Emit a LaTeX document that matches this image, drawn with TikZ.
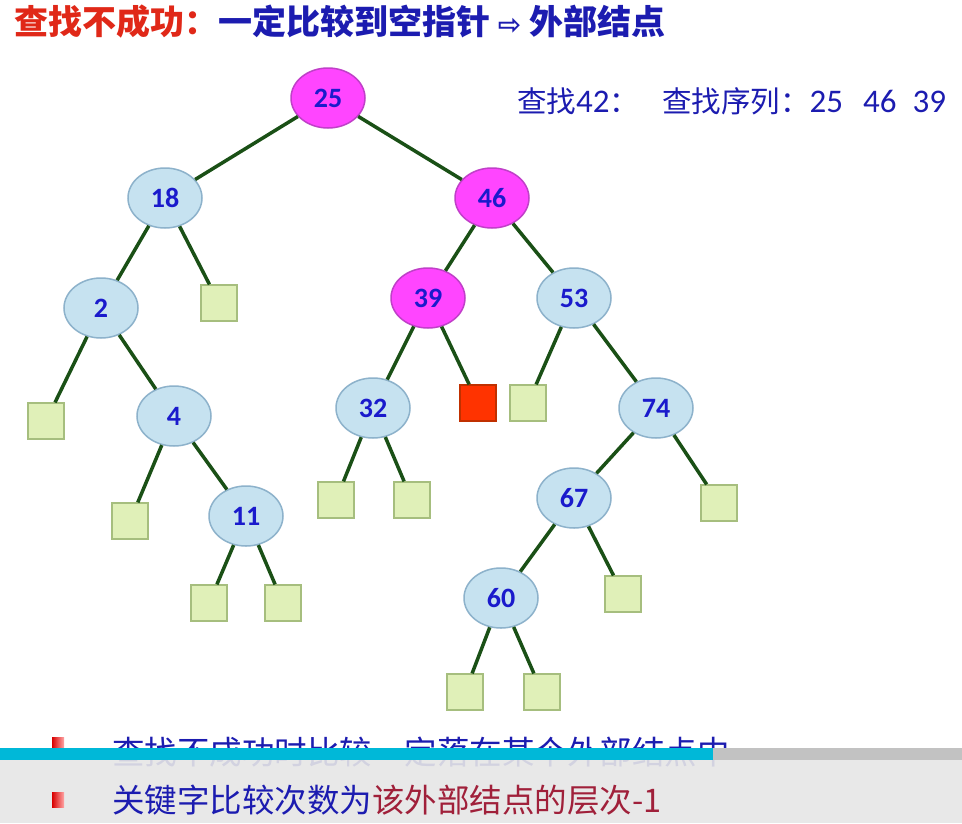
\documentclass[tikz,border=0pt]{standalone}
\usepackage{fontspec}
\setmainfont{Noto Sans CJK SC}
\newfontfamily\numfont{Carlito}
\newfontfamily\symfont{DejaVu Sans}
\usetikzlibrary{shapes.geometric}
\definecolor{titlered}{HTML}{E02818}
\definecolor{textblue}{HTML}{1C1CB0}
\definecolor{darkred}{HTML}{A0203A}
\definecolor{numblue}{HTML}{1A1ACC}
\definecolor{nodefill}{HTML}{C6E2F0}
\definecolor{nodeedge}{HTML}{8DB2CB}
\definecolor{hitfill}{HTML}{FF45FF}
\definecolor{hitedge}{HTML}{C040C8}
\definecolor{extfill}{HTML}{E0F0B8}
\definecolor{extedge}{HTML}{A6BE7E}
\definecolor{failfill}{HTML}{FF3300}
\definecolor{failedge}{HTML}{C03000}
\definecolor{branchgreen}{HTML}{1A5016}
\definecolor{barcyan}{HTML}{00B8D8}
\definecolor{bargray}{HTML}{C2C2C2}
\definecolor{panelgray}{HTML}{E6E6E6}
\newcommand\seqnum[1]{{\numfont\fontsize{33}{33}\selectfont #1}}

\begin{document}
\begin{tikzpicture}[x=1pt, y=-1pt,
  keynode/.style={ellipse, draw=nodeedge, fill=nodefill, line width=1.5pt,
    minimum width=74pt, minimum height=60pt, inner sep=0pt, text=numblue,
    font=\numfont\bfseries\fontsize{28}{28}\selectfont},
  hitnode/.style={keynode, draw=hitedge, fill=hitfill},
  extnode/.style={rectangle, draw=extedge, fill=extfill, line width=1.2pt,
    minimum size=36pt, inner sep=0pt},
  failnode/.style={extnode, draw=failedge, fill=failfill},
  branch/.style={draw=branchgreen, line width=3.5pt},
  bullet/.style={rectangle, minimum width=12pt, minimum height=15pt, inner sep=0pt,
    left color=red!85!black, right color=red!35},
  caption/.style={anchor=west, inner sep=0pt, font=\fontsize{32.5}{32.5}\selectfont}]
\clip (0,0) rectangle (962,823);
\useasboundingbox (0,0) rectangle (962,823);
\fill[white] (0,0) rectangle (962,823);

% title and search note
\node[caption, font=\bfseries\fontsize{34}{34}\selectfont, text=textblue] (title) at (14,22)
  {{\color{titlered}查找不成功：}一定比较到空指针 {\symfont\fontsize{28}{28}\selectfont ⇨} 外部结点};
\node[caption, font=\fontsize{29.5}{29.5}\selectfont, text=textblue] (key) at (517,101) {查找\seqnum{42}：};
\node[caption, font=\fontsize{29.5}{29.5}\selectfont, text=textblue] (seq) at (662,101)
  {查找序列：\seqnum{25}\hspace{20pt}\seqnum{46}\hspace{16pt}\seqnum{39}};

% internal nodes
\node[hitnode] (n25) at (328,98) {25};
\node[keynode] (n18) at (165,198) {18};
\node[hitnode] (n46) at (492,198) {46};
\node[keynode] (n2) at (101,308) {2};
\node[hitnode] (n39) at (428,298) {39};
\node[keynode] (n53) at (574,298) {53};
\node[keynode] (n4) at (174,416) {4};
\node[keynode] (n32) at (373,408) {32};
\node[keynode] (n74) at (656,408) {74};
\node[keynode] (n11) at (246,516) {11};
\node[keynode] (n67) at (574,498) {67};
\node[keynode] (n60) at (501,598) {60};

% external nodes
\node[extnode] (e18) at (219,303) {};
\node[extnode] (e2) at (46,421) {};
\node[failnode] (e39) at (478,403) {};
\node[extnode] (e53) at (528,403) {};
\node[extnode] (e4) at (130,521) {};
\node[extnode] (e32a) at (336,500) {};
\node[extnode] (e32b) at (412,500) {};
\node[extnode] (e74) at (719,503) {};
\node[extnode] (e11a) at (209,603) {};
\node[extnode] (e11b) at (283,603) {};
\node[extnode] (e67) at (623,594) {};
\node[extnode] (e60a) at (465,692) {};
\node[extnode] (e60b) at (542,692) {};

% branches
\draw[branch] (n25) -- (n18);
\draw[branch] (n25) -- (n46);
\draw[branch] (n18) -- (n2);
\draw[branch] (n18) -- (e18);
\draw[branch] (n2) -- (e2);
\draw[branch] (n2) -- (n4);
\draw[branch] (n4) -- (e4);
\draw[branch] (n4) -- (n11);
\draw[branch] (n11) -- (e11a);
\draw[branch] (n11) -- (e11b);
\draw[branch] (n46) -- (n39);
\draw[branch] (n46) -- (n53);
\draw[branch] (n39) -- (n32);
\draw[branch] (n39) -- (e39);
\draw[branch] (n32) -- (e32a);
\draw[branch] (n32) -- (e32b);
\draw[branch] (n53) -- (e53);
\draw[branch] (n53) -- (n74);
\draw[branch] (n74) -- (n67);
\draw[branch] (n74) -- (e74);
\draw[branch] (n67) -- (n60);
\draw[branch] (n67) -- (e67);
\draw[branch] (n60) -- (e60a);
\draw[branch] (n60) -- (e60b);

% notes at the bottom, half covered by the player bar
\node[bullet] (b1) at (58,745) {};
\node[caption, text=textblue] (note1) at (112,752) {查找不成功时比较一定落在某个外部结点中};
\fill[panelgray, opacity=0.9] (0,760) rectangle (962,823);
\fill[barcyan] (0,748) rectangle (713,760);
\fill[bargray] (713,748) rectangle (962,760);
\node[bullet] (b2) at (58,800) {};
\node[caption, text=textblue] (note2) at (112,800) {关键字比较次数为{\color{darkred}该外部结点的层次-1}};
\end{tikzpicture}
\end{document}
